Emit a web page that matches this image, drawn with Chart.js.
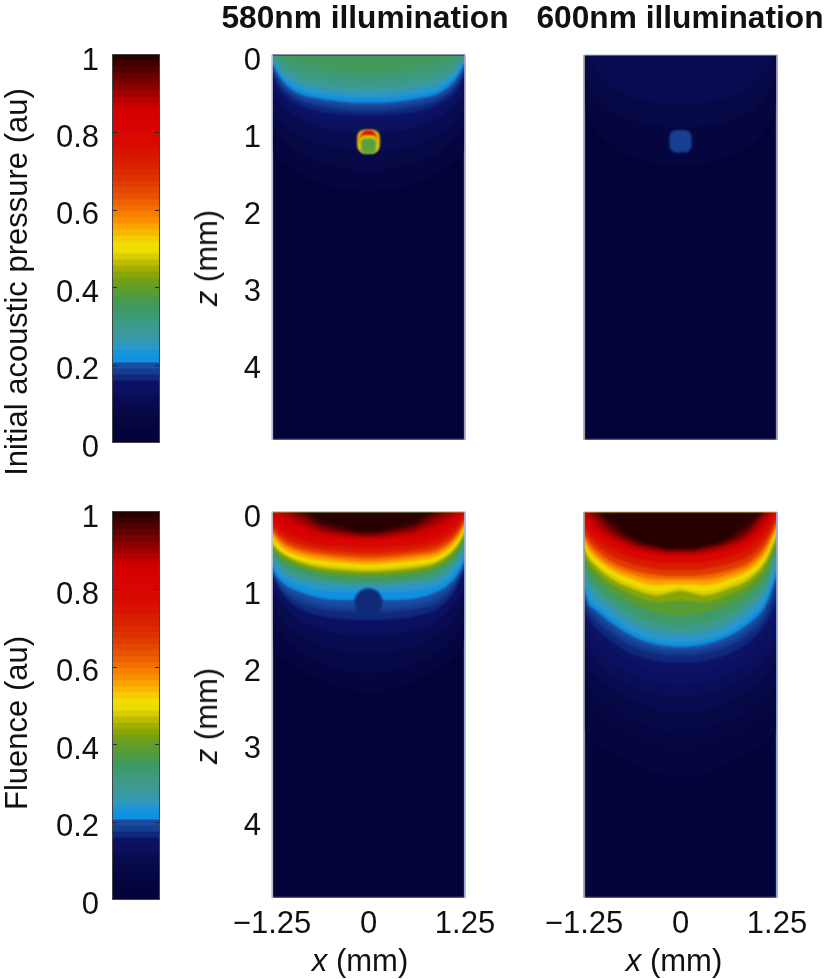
<!DOCTYPE html>
<html><head><meta charset="utf-8">
<script src="https://cdn.jsdelivr.net/npm/chart.js@4"></script>
<style>
html,body{margin:0;padding:0;background:#fff;width:825px;height:979px;overflow:hidden}
canvas{position:absolute;left:0;top:0}
.t{position:absolute;white-space:nowrap;font-family:"Liberation Sans",sans-serif;color:#111;transform:translate(-50%,-50%);font-size:31px}
.r{transform:translate(-50%,-50%) rotate(-90deg)}
.b{font-weight:bold;font-size:31.7px}
</style></head><body>
<div id="stack"></div>
<div class="t b" style="left:365px;top:17px">580nm illumination</div>
<div class="t b" style="left:680px;top:17px">600nm illumination</div>
<div class="t r" style="left:17px;top:282px">Initial acoustic pressure (au)</div>
<div class="t r" style="left:17px;top:723px">Fluence (au)</div>
<div class="t r" style="left:207px;top:258px"><i>z</i> (mm)</div>
<div class="t r" style="left:207px;top:716px"><i>z</i> (mm)</div>
<div class="t" style="left:360px;top:961px"><i>x</i> (mm)</div>
<div class="t" style="left:674px;top:961px"><i>x</i> (mm)</div>
<script>
// Colour bar bands, bottom (0) to top (1)
const CMAP = ['#03033a','#04043c','#05053f','#060642','#070846','#08094a','#090b50','#0a0e58','#0b1060','#0c1366','#10297c','#163e90','#1a4ca0','#1090e0','#1595dd','#2a97c8','#3499b0','#3a9aa0','#3c9a90','#3d9a84','#3e9a78','#3f9a6a','#429a5a','#4a9b45','#579c35','#659e25','#74a015','#88a508','#a2ae00','#bcbc00','#d8cc00','#ecdc00','#f0dc00','#f5cc00','#f9b800','#fba400','#fa9000','#f88000','#f37000','#ee6000','#e85200','#e44800','#e03c00','#dd3200','#db2a00','#da2200','#d91b00','#d81400','#d80e00','#d80a00','#d80800','#d80404','#d80202','#d60000','#d40000','#c80000','#b40000','#a00000','#8c0000','#780000','#640000','#500000','#3c0000','#280000'];
const BAR_TICKS = [0,0.2,0.4,0.6,0.8,1];
const Z_TICKS = [0,1,2,3,4];
const X_TICKS = [-1.25,0,1.25];
const X_TICK_LABELS = ['\u22121.25','0','1.25'];
// x knots (mm) of the contour curves
const X_KNOTS = [-1.25,-1.2,-1.1,-0.9,-0.6,-0.3,-0.15,0,0.15,0.3,0.6,0.9,1.1,1.2,1.25];
const FLOOR = [5,5,5,5,5,5,5,5,5,5,5,5,5,5,5];

// Panel A: initial pressure at 580 nm. Band index and contour depth z (mm)
const A_BANDS = [0,2,4,6,8,9,10,11,12,13,15,17,19,20,21,22];
const A_DEPTHS = [
FLOOR,
[1.2,1.3,1.4,1.55,1.68,1.75,1.77,1.78,1.77,1.75,1.68,1.55,1.4,1.3,1.2],
[.95,1.02,1.12,1.28,1.42,1.48,1.5,1.5,1.5,1.48,1.42,1.28,1.12,1.02,.95],
[.7,.8,.9,1.05,1.18,1.23,1.25,1.25,1.25,1.23,1.18,1.05,.9,.8,.7],
[.45,.55,.68,.82,.94,.99,1,1,1,.99,.94,.82,.68,.55,.45],
[.3,.42,.58,.72,.83,.87,.88,.88,.88,.87,.83,.72,.58,.42,.3],
[.22,.35,.5,.64,.74,.77,.78,.78,.78,.77,.74,.64,.5,.35,.22],
[.17,.3,.44,.58,.67,.71,.72,.72,.72,.71,.67,.58,.44,.3,.17],
[.13,.25,.4,.54,.62,.66,.67,.67,.67,.66,.62,.54,.4,.25,.13],
[.1,.2,.35,.5,.57,.61,.62,.62,.62,.61,.57,.5,.35,.2,.1],
[.08,.16,.3,.44,.51,.55,.56,.56,.56,.55,.51,.44,.3,.16,.08],
[.05,.11,.24,.37,.44,.48,.49,.49,.49,.48,.44,.37,.24,.11,.05],
[.02,.07,.18,.29,.35,.39,.4,.4,.4,.39,.35,.29,.18,.07,.02],
[0,.04,.12,.21,.27,.31,.32,.32,.32,.31,.27,.21,.12,.04,0],
[0,0,.07,.15,.21,.25,.26,.26,.26,.25,.21,.15,.07,0,0],
[0,0,0,.06,.14,.19,.2,.2,.2,.19,.14,.06,0,0,0]];

// Panel B: initial pressure at 600 nm
const B_BANDS = [0,2,4,6];
const B_DEPTHS = [
FLOOR,
[.62,.8,.98,1.18,1.34,1.42,1.44,1.45,1.44,1.42,1.34,1.18,.98,.8,.62],
[.25,.35,.55,.74,.87,.93,.95,.95,.95,.93,.87,.74,.55,.35,.25],
[0,.05,.22,.42,.56,.63,.65,.65,.65,.63,.56,.42,.22,.05,0]];

// Panel C: fluence at 580 nm
const C_BANDS = [0,2,4,6,8,10,11,12,13,15,18,21,24,27,30,32,35,38,42,46,50,54,56,58,60,62,63];
const C_DEPTHS = [
FLOOR,
[1.6,1.8,1.9,2.05,2.2,2.3,2.34,2.35,2.34,2.3,2.2,2.05,1.9,1.8,1.6],
[1.35,1.5,1.65,1.82,1.98,2.07,2.09,2.1,2.09,2.07,1.98,1.82,1.65,1.5,1.35],
[1.1,1.25,1.42,1.6,1.75,1.83,1.85,1.85,1.85,1.83,1.75,1.6,1.42,1.25,1.1],
[.95,1.05,1.22,1.4,1.53,1.59,1.6,1.6,1.6,1.59,1.53,1.4,1.22,1.05,.95],
[.8,.92,1.08,1.25,1.35,1.39,1.4,1.4,1.4,1.39,1.35,1.25,1.05,.85,.72],
[.78,.88,1.03,1.17,1.26,1.29,1.3,1.3,1.3,1.29,1.26,1.17,.98,.8,.68],
[.75,.85,.99,1.1,1.2,1.23,1.24,1.24,1.24,1.23,1.2,1.1,.93,.77,.65],
[.72,.82,.93,1.03,1.12,1.14,1.14,1.14,1.14,1.14,1.12,1.03,.88,.73,.62],
[.68,.76,.86,.95,1.02,1.03,1.03,1.03,1.03,1.03,1.02,.95,.8,.66,.55],
[.6,.66,.77,.87,.93,.95,.96,.96,.96,.95,.93,.87,.72,.58,.46],
[.55,.6,.7,.79,.87,.9,.91,.91,.91,.9,.87,.79,.64,.5,.4],
[.5,.55,.64,.73,.81,.84,.85,.85,.85,.84,.81,.73,.58,.44,.33],
[.45,.5,.59,.68,.76,.79,.8,.8,.8,.79,.76,.68,.53,.39,.28],
[.4,.46,.54,.64,.72,.75,.76,.765,.76,.75,.72,.64,.49,.35,.24],
[.36,.44,.53,.62,.68,.71,.72,.73,.72,.71,.68,.62,.47,.31,.2],
[.3,.38,.48,.57,.63,.66,.67,.68,.67,.66,.63,.57,.42,.27,.17],
[.26,.33,.43,.52,.58,.62,.63,.635,.63,.62,.58,.52,.38,.24,.14],
[.22,.29,.39,.48,.54,.57,.58,.59,.58,.57,.54,.48,.34,.2,.1],
[.18,.25,.34,.42,.49,.52,.53,.535,.53,.52,.49,.42,.29,.16,.06],
[.14,.19,.27,.36,.43,.45,.465,.47,.465,.45,.43,.36,.22,.11,.03],
[.08,.12,.18,.28,.34,.36,.37,.37,.37,.36,.34,.28,.15,.05,0],
[0,0,.06,.17,.28,.32,.335,.34,.335,.32,.28,.17,.06,0,0],
[0,0,0,.1,.24,.29,.31,.32,.31,.29,.24,.11,0,0,0],
[0,0,0,.03,.2,.26,.285,.295,.285,.26,.2,.04,0,0,0],
[0,0,0,0,.16,.23,.26,.27,.26,.23,.16,0,0,0,0],
[0,0,0,0,.1,.19,.23,.24,.23,.19,.1,0,0,0,0]];

// Panel D: fluence at 600 nm
const D_BANDS = [0,2,3,4,6,7,8,9,10,11,12,13,15,18,21,24,27,30,32,35,38,42,46,50,54,56,58,60,62,63];
const D_DEPTHS = [
FLOOR,
[2.8,2.9,3.0,3.12,3.28,3.4,3.44,3.45,3.44,3.4,3.28,3.12,3.0,2.9,2.8],
[2.45,2.55,2.66,2.8,2.95,3.06,3.09,3.1,3.09,3.06,2.95,2.8,2.66,2.55,2.45],
[2.2,2.3,2.42,2.56,2.72,2.82,2.85,2.85,2.85,2.82,2.72,2.56,2.42,2.3,2.2],
[1.9,2,2.14,2.3,2.46,2.57,2.6,2.6,2.6,2.57,2.46,2.3,2.14,2,1.9],
[1.7,1.8,1.94,2.1,2.27,2.37,2.4,2.4,2.4,2.37,2.27,2.1,1.94,1.8,1.7],
[1.55,1.65,1.78,1.95,2.12,2.22,2.25,2.25,2.25,2.22,2.12,1.95,1.78,1.65,1.55],
[1.4,1.5,1.63,1.8,1.97,2.07,2.1,2.1,2.1,2.07,1.97,1.8,1.6,1.45,1.3],
[1.25,1.37,1.5,1.67,1.85,1.93,1.95,1.95,1.95,1.93,1.85,1.67,1.45,1.25,1.1],
[1.15,1.27,1.4,1.57,1.75,1.83,1.85,1.85,1.85,1.83,1.75,1.57,1.35,1.12,.95],
[1.05,1.2,1.32,1.5,1.68,1.77,1.79,1.8,1.79,1.77,1.68,1.5,1.27,1.02,.85],
[.99,1.17,1.27,1.43,1.62,1.72,1.74,1.75,1.74,1.72,1.62,1.43,1.21,.95,.77],
[.92,1.08,1.2,1.36,1.56,1.66,1.68,1.69,1.68,1.66,1.56,1.36,1.14,.88,.7],
[.8,.95,1.08,1.24,1.45,1.55,1.57,1.58,1.57,1.55,1.45,1.24,1.02,.75,.6],
[.7,.84,.98,1.14,1.33,1.44,1.46,1.47,1.46,1.44,1.33,1.14,.92,.66,.52],
[.6,.74,.87,1.03,1.2,1.31,1.33,1.34,1.33,1.31,1.2,1.03,.81,.56,.44],
[.52,.65,.77,.93,1.08,1.17,1.16,1.14,1.16,1.17,1.08,.93,.71,.48,.36],
[.46,.58,.7,.86,1,1.08,1.05,1.02,1.05,1.08,1,.86,.64,.42,.3],
[.42,.54,.66,.81,.95,1.03,1.01,.98,1.01,1.03,.95,.81,.6,.37,.26],
[.36,.48,.6,.75,.88,.95,.94,.94,.94,.95,.88,.75,.54,.32,.21],
[.32,.43,.55,.7,.82,.88,.88,.88,.88,.88,.82,.7,.49,.28,.17],
[.28,.38,.49,.64,.76,.82,.83,.83,.83,.82,.76,.64,.43,.24,.13],
[.22,.31,.42,.56,.68,.74,.75,.75,.75,.74,.68,.56,.36,.18,.08],
[.16,.24,.34,.47,.59,.65,.66,.66,.66,.65,.59,.47,.28,.12,.04],
[.08,.15,.25,.38,.5,.56,.57,.57,.57,.56,.5,.38,.19,.05,0],
[0,.06,.18,.33,.47,.53,.55,.55,.55,.53,.47,.33,.12,0,0],
[0,0,.1,.28,.43,.5,.52,.52,.52,.5,.43,.28,.04,0,0],
[0,0,.03,.23,.4,.47,.5,.5,.5,.47,.4,.23,0,0,0],
[0,0,0,.17,.37,.45,.48,.48,.48,.45,.37,.17,0,0,0],
[0,0,0,.1,.34,.43,.46,.46,.46,.43,.34,.1,0,0,0]];

// Absorber disc at depth (mm), layered
const A_DISC_Z = [1.12,1.1,1.08,1.16,1.18];
const B_DISC_Z = [1.12];
const C_DISC_Z = [1.17];

const FONT = {family:'"Liberation Sans",sans-serif',size:31,lineHeight:'12px'};
const stack = document.getElementById('stack');
function newCanvas(){const c=document.createElement('canvas');c.width=825;c.height=979;c.style.width='825px';c.style.height='979px';stack.appendChild(c);return c;}

const barDecor = {id:'barDecor',afterDatasetsDraw(ch){
  const a=ch.chartArea,g=ch.ctx,y=ch.scales.y;
  g.save();g.strokeStyle='#2a2a2a';g.lineWidth=1;
  y.ticks.forEach(t=>{const p=Math.round(y.getPixelForValue(t.value))+.5;
    if(t.value>0&&t.value<1){g.beginPath();g.moveTo(a.left,p);g.lineTo(a.left+4,p);g.moveTo(a.right,p);g.lineTo(a.right-4,p);g.stroke();}});
  g.strokeStyle='#444';g.strokeRect(a.left-.5,a.top-.5,a.right-a.left+1,a.bottom-a.top+1);
  g.restore();}};
// soft edges of the contour fills, as in the photographed figure
const soften = {id:'soften',beforeDatasetsDraw(ch){ch.ctx.save();ch.ctx.filter='blur(1.3px)';},afterDatasetsDraw(ch){ch.ctx.filter='none';ch.ctx.restore();}};

function colorBar(T,B){
  const datasets = CMAP.map((c,i)=>({data:[1/CMAP.length],backgroundColor:c,borderWidth:0,inflateAmount:1,barPercentage:1,categoryPercentage:1,stack:'s'}));
  return new Chart(newCanvas(),{type:'bar',data:{labels:[''],datasets},plugins:[barDecor],
   options:{responsive:false,animation:false,events:[],
    layout:{autoPadding:false,padding:{left:13,top:T,right:825-159,bottom:979-B}},
    plugins:{legend:{display:false},tooltip:{enabled:false}},
    scales:{x:{display:false,stacked:true},
     y:{stacked:true,min:0,max:1,afterFit(s){s.width=100},grid:{display:false,drawTicks:false},border:{display:false},
        afterBuildTicks(s){s.ticks=BAR_TICKS.map(v=>({value:v}))},
        ticks:{padding:14,color:'#111',font:FONT,callback:v=>['',String(v)]}}}}});
}

function panel(o){
  const ds=o.bands.map((b,i)=>({type:'line',data:X_KNOTS.map((x,j)=>({x,y:o.depths[i][j]})),
     borderWidth:0,pointRadius:0,fill:{value:0},backgroundColor:CMAP[b],cubicInterpolationMode:'monotone',order:-i}));
  let n=o.bands.length;
  (o.discs||[]).forEach((d,k)=>ds.push({type:'line',data:[{x:0,y:o.discZ[k]}],showLine:false,pointStyle:d[0],pointRadius:d[1],
     pointBackgroundColor:d[2],pointBorderWidth:0,order:-(n++)}));
  const ch=new Chart(newCanvas(),{type:'line',data:{datasets:ds},plugins:[soften],
   options:{responsive:false,animation:false,events:[],
    layout:{autoPadding:false,padding:{left:o.L-100,top:o.T,right:825-o.R,bottom:o.showX?979-o.B-60:979-o.B}},
    plugins:{legend:{display:false},tooltip:{enabled:false},filler:{drawTime:'beforeDatasetDraw',propagate:false}},
    scales:{
     x:{type:'linear',min:-1.25,max:1.25,display:o.showX,afterFit(s){if(o.showX)s.height=60},
        grid:{display:false,drawTicks:false},border:{display:false},
        afterBuildTicks(s){s.ticks=X_TICKS.map(v=>({value:v}))},
        ticks:{maxRotation:0,autoSkip:false,padding:8,color:'#111',font:{family:FONT.family,size:31},
          callback:(v)=>X_TICK_LABELS[X_TICKS.indexOf(v)]}},
     y:{type:'linear',min:0,max:5,reverse:true,display:true,afterFit(s){s.width=100},
        grid:{display:false,drawTicks:false},border:{display:false},
        afterBuildTicks(s){s.ticks=o.showZ?Z_TICKS.map(v=>({value:v})):[]},
        ticks:{padding:11,color:'#111',font:FONT,callback:v=>['',String(v)]}}}}});
  return ch;
}
// thin frame lines around the heat panels, drawn crisp on their own layer
function frameLines(o){
  const edges=[[[{x:-1.25,y:0},{x:-1.25,y:5}],o.c[0]],[[{x:1.25,y:0},{x:1.25,y:5}],o.c[1]],[[{x:-1.25,y:0},{x:1.25,y:0}],o.c[2]]];
  return new Chart(newCanvas(),{type:'line',data:{datasets:edges.map(e=>({data:e[0],borderColor:e[1],borderWidth:1,pointRadius:0,fill:false,clip:2}))},
   options:{responsive:false,animation:false,events:[],
    layout:{autoPadding:false,padding:{left:o.L,top:o.T,right:825-o.R,bottom:979-o.B}},
    plugins:{legend:{display:false},tooltip:{enabled:false}},
    scales:{x:{type:'linear',min:-1.25,max:1.25,display:false},y:{type:'linear',min:0,max:5,reverse:true,display:false}}}});
}

colorBar(55,442);
colorBar(512,899);
panel({L:272,R:465,T:55,B:440,showZ:true,showX:false,bands:A_BANDS,depths:A_DEPTHS,discZ:A_DISC_Z,
  discs:[['rectRounded',13,'#ecd800'],['circle',10,'#f98000'],['circle',8,'#d81000'],['rectRounded',10.5,'#e0d400'],['rectRounded',9,'#5aa040']]});
panel({L:584,R:777,T:55,B:440,showZ:false,showX:false,bands:B_BANDS,depths:B_DEPTHS,discZ:B_DISC_Z,
  discs:[['rectRounded',13,'#173f92']]});
panel({L:272,R:465,T:512,B:898,showZ:true,showX:true,bands:C_BANDS,depths:C_DEPTHS,discZ:C_DISC_Z,
  discs:[['circle',14,'#102a78']]});
panel({L:584,R:777,T:512,B:898,showZ:false,showX:true,bands:D_BANDS,depths:D_DEPTHS});
frameLines({L:272,R:465,T:55,B:440,c:['#c8c8d8','#a9add0','#14205e']});
frameLines({L:584,R:777,T:55,B:440,c:['#a8a8a8','#a0a0c8','#b0b0c0']});
frameLines({L:272,R:465,T:512,B:898,c:['#c8c8d0','#a8b4e0','#8ab04a']});
frameLines({L:584,R:777,T:512,B:898,c:['#a0a0a0','#98a8e0','#c0c040']});
</script>
</body></html>
